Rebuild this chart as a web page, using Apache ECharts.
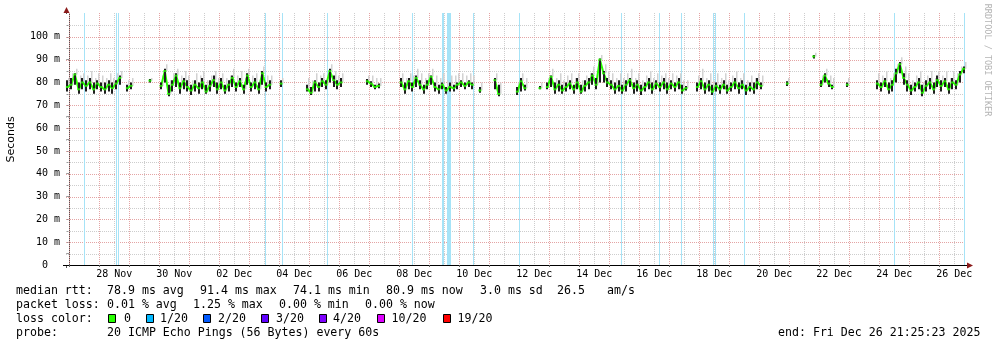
<!DOCTYPE html>
<html><head><meta charset="utf-8">
<script src="https://cdn.jsdelivr.net/npm/echarts@6/dist/echarts.min.js"></script>
<style>html,body{margin:0;padding:0;background:#fff}#c{width:997px;height:347px}</style>
</head><body><div id="c"></div>
<script>
// time axis in hours relative to 27 Nov 00:00
const START_H = -2.577;   // Nov 26 21:25:23
const END_H = 717.423;    // Dec 26 21:25:23
const BIN_START = -1.5, BIN_STEP = 3;   // 3-hour samples

const median = [
78,79,83.5,77,80,78.5,80,77,79.5,78,
77,79,77.5,79.5,82,null,77.5,78.5,null,null,
null,null,80.8,null,null,78.5,85,75,79,83,
77.5,80.5,78,76.5,79,77.5,80,76,78.5,81,
77,80,76.5,79,82,78,80.5,77,83,78,
80,77,84,78,79,null,null,79.5,null,null,
null,null,null,null,77,75.5,80,78,80.5,79,
85,81,79,80,null,null,null,null,null,null,
80.5,79.5,78,78.5,null,null,null,null,null,80,
77,80.5,78,82,79,77,79,82.5,78,77,
79,76.5,78,77.5,79,80,78.5,80,79,null,
76.5,null,null,null,81,75,null,null,null,null,
76,80.5,77.5,null,null,null,77.5,null,78,82.5,
77,79,76.5,78,79.5,77,80,76,78.5,80,
83,79,90,84,80,79,77,78.5,76.5,79,
81,77.5,79,76.5,78,80,77,79.5,78,80,
77,79.5,78,80,76.5,77.5,null,null,78,80.5,
77,79,76,78.5,77,79,76.5,78,80,77.5,
79,76.5,78,77,80,78.5,null,null,null,null,
null,null,79.5,null,null,null,null,null,null,91.4,
null,79,83,79.5,78,null,null,null,79,null,
null,null,null,null,null,null,79.5,78,80.5,77,
79,84,88,82,79,76.5,78,80,75.5,78.5,
80,77,81,78.5,80.5,77,80,79,83.5,86
];
// dark smoke band (bottom / top) per sample
const darkLo = [
76,77,79,75,77,76,77,75,77,76,
75,76,75,77,79,null,76,77,null,null,
null,null,80,null,null,77,80,74,76,78,
75,77,76,74.5,76,75,77,75,76,78,
75,77,75,76,78,76,78,75,79,76,
77,75,79,76,77,null,null,78,null,null,
null,null,null,null,76,74.5,76,76,78,77,
80,78,77,78,null,null,null,null,null,null,
79,78,77,77.5,null,null,null,null,null,78,
75,77,76,78,77,75,77,79,76,75,
77,75,76,76,77,78,77,78,77,null,
75.5,null,null,null,77,74,null,null,null,null,
74.5,76,76.5,null,null,null,77,null,77,78,
75,76,75,76,77,75,77,75,76,77,
79,77,80,80,78,77,75,76,75,76,
78,75,76,74.5,76,77,75,77,76,77,
75,77,76,77,75,76.5,null,null,76,77,
75,76,74.5,76,75,77,75,76,77,75,
77,74.5,76,75,77,77,null,null,null,null,
null,null,78.5,null,null,null,null,null,null,90.5,
null,78,80,78,77,null,null,null,78,null,
null,null,null,null,null,null,77,76,78,75,
76,80,84,79,76,74.5,76,77,74,76,
77,75,78,76,78,75,77,77,80,84
];
const darkHi = [
81,82,84,80,82,81,82,80,81,80,
80,81,80,81,83,null,79,80,null,null,
null,null,81.5,null,null,80,86,79,81,84,
80,82,81,79,81,80,82,79,81,83,
80,82,79,81,83,80,82,79,84,80,
82,80,85,80,81,null,null,81,null,null,
null,null,null,null,79,78,81,80,82,81,
86,83,81,82,null,null,null,null,null,null,
81.5,80.5,79,79.5,null,null,null,null,null,82,
80,82,80,83,81,79,81,83,80,79,
80,78,80,79,80,81,80,81,80,null,
78,null,null,null,82,79,null,null,null,null,
78,82,79,null,null,null,78.5,null,80,83,
80,81,79,80,81,79,82,79,81,82,
84,82,90.5,85,82,81,80,81,79,81,
82,80,81,79,80,82,80,81,80,82,
80,81,80,82,79,78.5,null,null,80,82,
80,81,79,80,79,81,79,80,82,80,
81,79,80,80,82,80,null,null,null,null,
null,null,80.5,null,null,null,null,null,null,92,
null,81,84,81,79,null,null,null,80,null,
null,null,null,null,null,null,81,80,82,80,
81,86,89,84,81,79,80,82,79,81,
82,80,83,81,82,80,82,81,85,87
];
// light smoke top per sample
const smokeTop = [
82,84,86,83,84,83,85,82,84,83,
82,84,82,84,85,null,81,82,null,null,
null,null,82,null,null,83,88,81,84,86,
83,85,83,81,84,83,85,81,83,85,
82,84,82,83,86,83,85,82,86,83,
84,82,87,83,83,null,null,82,null,null,
null,null,null,null,82,81,84,83,84,83,
88,85,83,84,null,null,null,null,null,null,
83,83,82,82,null,null,null,null,null,84,
82,84,83,86,84,82,84,86,83,82,
84,81,83,83,84,84,83,84,83,null,
80,null,null,null,84,80,null,null,null,null,
80,84,82,null,null,null,80,null,82,86,
82,84,81,83,84,82,84,81,83,84,
87,84,92,88,85,84,82,84,82,84,
86,82,84,81,83,85,82,84,83,84,
82,84,83,84,81,81,null,null,83,86,
82,84,81,84,82,84,81,83,85,82,
84,81,83,82,84,83,null,null,null,null,
null,null,82,null,null,null,null,null,null,93,
null,83,86,83,82,null,null,null,82,null,
null,null,null,null,null,null,84,83,85,82,
84,88,91,87,84,81,83,85,80,83,
85,82,85,83,85,82,85,84,87,89
];
// packet-loss events: [hour, duration in hours]
const lossEvents = [[12.6,0.8],[38.0,0.8],[39.3,0.8],[156.9,0.8],[170.8,0.8],[207.0,0.8],
 [274.5,0.8],[299.4,1.6],[303.8,3.2],[323.3,0.8],[360.6,0.8],[441.7,0.8],[472.1,0.8],
 [489.7,0.8],[515.6,0.8],[517.4,0.8],[540.1,0.8],[660.1,0.8],[716.1,0.8]];

const dayLabels = ['28 Nov','30 Nov','02 Dec','04 Dec','06 Dec','08 Dec','10 Dec','12 Dec',
 '14 Dec','16 Dec','18 Dec','20 Dec','22 Dec','24 Dec','26 Dec'];
const yTickValues = [0,10,20,30,40,50,60,70,80,90,100];

const rttStats = ['78.9 ms avg','91.4 ms max','74.1 ms min','80.9 ms now','3.0 ms sd','26.5','am/s'];
const lossStats = ['0.01 % avg','1.25 % max','0.00 % min','0.00 % now'];
const lossLevels = ['0','1/20','2/20','3/20','4/20','10/20','19/20'];
const lossColors = ['#26ff00','#00b8ff','#0059ff','#5e00ff','#7e00ff','#dd00ff','#ff0000'];
const probeText = '20 ICMP Echo Pings (56 Bytes) every 60s';
const endText = 'end: Fri Dec 26 21:25:23 2025';

const MONO = '"DejaVu Sans Mono"';
const binHours = median.map((_, i) => BIN_START + BIN_STEP * i);
const medData = median.map((v, i) => [binHours[i], v]);
const greenData = medData.filter(d => d[1] != null);
const smokeData = median.map((v, i) => [binHours[i], v, smokeTop[i]]).filter(d => d[1] != null);
const darkData = median.map((v, i) => [binHours[i], darkLo[i], darkHi[i]]).filter(d => d[1] != null);
const labelHours = dayLabels.map((_, k) => 36 + 48 * k);
const dayHours = []; for (let d = 0; d < 30; d++) dayHours.push(24 * d);
const vGrid = []; dayHours.forEach(h => { vGrid.push([h, 1]); vGrid.push([h + 12, 0]); });
const hGrid = []; for (let v = 5; v <= 105; v += 5) hGrid.push([v, v % 10 === 0 ? 1 : 0]);

const MAJ = '#e4a4a4', MIN = '#cdcdcd';

const chart = echarts.init(document.getElementById('c'));
const graphics = [];
function txt(x, y, s, size, extra) {
  graphics.push(Object.assign({ type: 'text', x: x, y: y, silent: true,
    style: { text: s, font: (size || 11.6) + 'px ' + MONO, fill: '#000',
      textVerticalAlign: 'middle', verticalAlign: 'middle' } }, extra || {}));
}
txt(16, 291, 'median rtt:');
[107, 200, 293, 386, 480, 557, 607].forEach((x, k) => txt(x, 291, rttStats[k]));
txt(16, 305, 'packet loss:');
[107, 193, 279, 365].forEach((x, k) => txt(x, 305, lossStats[k]));
txt(16, 319, 'loss color:');
const boxX = [108.5, 146.5, 203.5, 261.5, 319.5, 377.5, 443.5];
const lblX = [124, 160, 218, 276, 333, 391.5, 457.5];
boxX.forEach((x, k) => {
  graphics.push({ type: 'rect', silent: true, shape: { x: x, y: 314.5, width: 7, height: 8 },
    style: { fill: lossColors[k], stroke: '#000', lineWidth: 1 } });
  txt(lblX[k], 319, lossLevels[k]);
});
txt(16, 333, 'probe:');
txt(107, 333, probeText);
txt(778, 333, endText);
// watermark
graphics.push({ type: 'text', x: 987.5, y: 60, rotation: -Math.PI / 2, silent: true,
  style: { text: 'RRDTOOL / TOBI OETIKER', font: '8.5px ' + MONO, fill: '#b4b4b4',
    textAlign: 'center', align: 'center', textVerticalAlign: 'middle', verticalAlign: 'middle' } });
// axis arrows and extensions
graphics.push({ type: 'line', silent: true, shape: { x1: 66.5, y1: 14, x2: 66.5, y2: 9 }, style: { stroke: '#555', lineWidth: 1 } });
graphics.push({ type: 'line', silent: true, shape: { x1: 66.5, y1: 265, x2: 66.5, y2: 268 }, style: { stroke: '#555', lineWidth: 1 } });
graphics.push({ type: 'line', silent: true, shape: { x1: 63, y1: 265.5, x2: 66, y2: 265.5 }, style: { stroke: '#000', lineWidth: 1 } });
graphics.push({ type: 'line', silent: true, shape: { x1: 966, y1: 265.5, x2: 969, y2: 265.5 }, style: { stroke: '#000', lineWidth: 1 } });
graphics.push({ type: 'polygon', silent: true, shape: { points: [[66.5, 7], [63.5, 13], [69.5, 13]] }, style: { fill: '#8b1a1a' } });
graphics.push({ type: 'polygon', silent: true, shape: { points: [[973, 265.5], [967, 262.5], [967, 268.5]] }, style: { fill: '#8b1a1a' } });

const option = {
  animation: false,
  backgroundColor: '#fff',
  grid: { left: 66, right: 31, top: 14, bottom: 82, containLabel: false, outerBoundsMode: 'none' },
  xAxis: {
    type: 'value', min: START_H, max: END_H,
    axisLine: { show: true, lineStyle: { color: '#000', width: 1 } },
    axisTick: { show: true, customValues: dayHours, length: 2, lineStyle: { color: '#666' } },
    axisLabel: { customValues: labelHours, margin: 4, fontFamily: 'DejaVu Sans Mono', fontSize: 10, color: '#000',
      formatter: v => dayLabels[Math.round((v - 36) / 48)] || '' },
    splitLine: { show: false }
  },
  yAxis: {
    type: 'value', min: 0, max: 110, interval: 10,
    name: 'Seconds', nameLocation: 'middle', nameGap: 49, nameRotate: 90,
    nameTextStyle: { fontFamily: 'DejaVu Sans', fontSize: 11, color: '#000' },
    axisLine: { show: true, lineStyle: { color: '#555', width: 1 } },
    axisTick: { show: true, customValues: hGrid.map(d => d[0]), length: 3, lineStyle: { color: '#999' } },
    axisLabel: { customValues: yTickValues, margin: 6, fontFamily: 'DejaVu Sans Mono', fontSize: 10, color: '#000',
      formatter: v => v === 0 ? '0  ' : (v + ' m') },
    splitLine: { show: false }
  },
  graphic: graphics,
  series: [
    { type: 'custom', name: 'vgrid', z: 1, silent: true, data: vGrid,
      renderItem: (p, api) => {
        const x = Math.round(api.coord([api.value(0), 0])[0]) + 0.5;
        const yb = api.coord([api.value(0), 0])[1], yt = api.coord([api.value(0), 110])[1] - 1;
        return { type: 'line', shape: { x1: x, y1: yt, x2: x, y2: yb },
          style: { stroke: api.value(1) ? MAJ : MIN, lineWidth: 1, lineDash: [1, 1] } };
      } },
    { type: 'custom', name: 'hgrid', z: 1, silent: true, data: hGrid,
      renderItem: (p, api) => {
        const y = Math.round(api.coord([START_H, api.value(0)])[1]) + 0.5;
        const x0 = api.coord([START_H, 0])[0], x1 = api.coord([END_H, 0])[0];
        return { type: 'line', shape: { x1: x0, y1: y, x2: x1, y2: y },
          style: { stroke: api.value(1) ? MAJ : MIN, lineWidth: 1, lineDash: [1, 1] } };
      } },
    { type: 'custom', name: 'loss', z: 2, silent: true, data: lossEvents,
      renderItem: (p, api) => {
        const c = api.coord([api.value(0), 0]);
        const top = api.coord([api.value(0), 110])[1];
        const w = Math.max(1, Math.round(api.value(1) * 1.25));
        const x0 = Math.round(c[0] - w / 2);
        return { type: 'rect', shape: { x: x0, y: top - 1, width: w, height: c[1] - top + 1 },
          style: { fill: '#a6e3f7' } };
      } },
    { type: 'custom', name: 'smoke', z: 3, silent: true, data: smokeData,
      renderItem: (p, api) => {
        const a = api.coord([api.value(0), api.value(1)]);
        const b = api.coord([api.value(0), api.value(2)]);
        return { type: 'rect', shape: { x: Math.round(a[0]) + 1, y: b[1], width: 1.5, height: a[1] - b[1] },
          style: { fill: '#d2d2d2' } };
      } },
    { type: 'line', name: 'median line', z: 4, data: medData, connectNulls: false,
      showSymbol: false, silent: true, lineStyle: { color: '#26ff00', width: 2 } },
    { type: 'custom', name: 'dark smoke', z: 5, silent: true, data: darkData,
      renderItem: (p, api) => {
        const a = api.coord([api.value(0), api.value(1)]);
        const b = api.coord([api.value(0), api.value(2)]);
        return { type: 'rect', shape: { x: Math.round(a[0]) - 1, y: b[1], width: 2, height: a[1] - b[1] },
          style: { fill: '#1e1e1e' } };
      } },
    { type: 'scatter', name: 'median loss 0', z: 6, data: greenData, symbol: 'rect', symbolSize: [3, 2],
      silent: true, itemStyle: { color: '#26ff00' } }
  ]
};
chart.setOption(option);
</script></body></html>
